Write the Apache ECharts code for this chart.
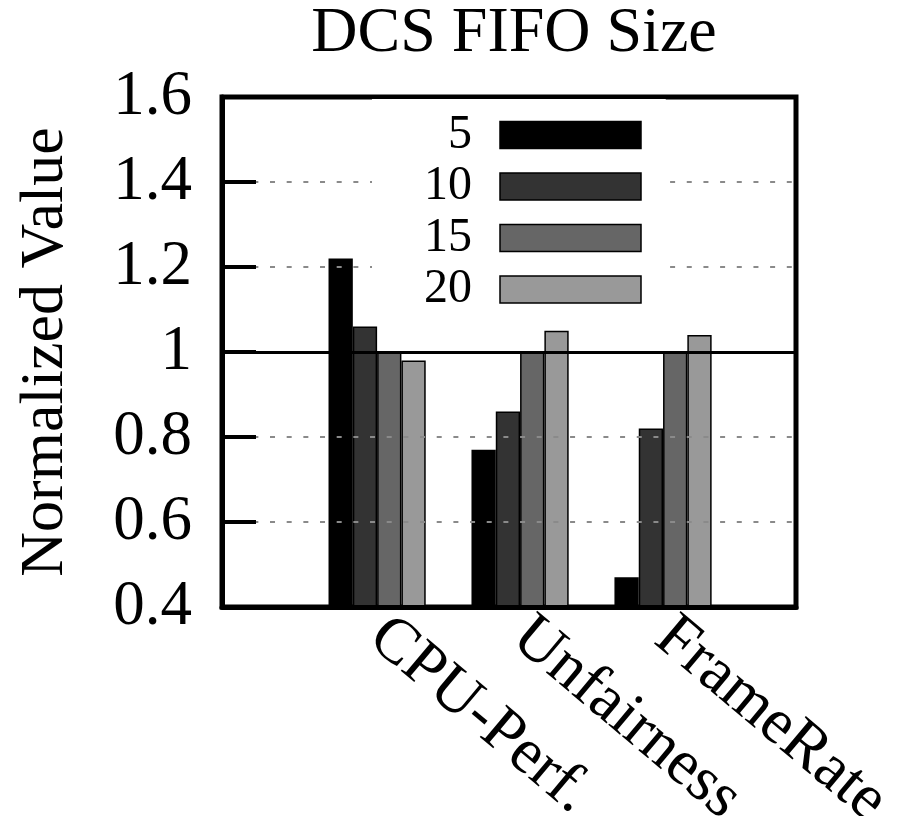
<!DOCTYPE html>
<html>
<head>
<meta charset="utf-8">
<title>DCS FIFO Size</title>
<script src="https://cdn.jsdelivr.net/npm/echarts@6/dist/echarts.min.js"></script>
<style>
  html, body { margin: 0; padding: 0; background: #fff; }
  #chart { width: 900px; height: 816px; }
</style>
</head>
<body>
<div id="chart"></div>
<script>
// Metrics on the x axis, FIFO sizes as the series
const categories = ['CPU-Perf.', 'Unfairness', 'FrameRate'];
const fifoSizes = ['5', '10', '15', '20'];
const values5 = [1.22, 0.77, 0.47];
const values10 = [1.06, 0.86, 0.82];
const values15 = [1.00, 1.00, 1.00];
const values20 = [0.98, 1.05, 1.04];
const yTicks = [0.4, 0.6, 0.8, 1.0, 1.2, 1.4, 1.6];

const seriesValues = [values5, values10, values15, values20];
const barColors = ['#000000', '#333333', '#666666', '#999999'];
const FONT = '"Liberation Serif", "Times New Roman", serif';

const chart = echarts.init(document.getElementById('chart'), null, { renderer: 'canvas' });

const series = fifoSizes.map((name, s) => ({
  name: name,
  type: 'bar',
  barWidth: 24.3,
  barGap: '0%',
  clip: true,
  data: seriesValues[s].map((v, i) => [i, v]),
  itemStyle: { color: barColors[s], borderColor: '#000', borderWidth: 1.5 },
  emphasis: { disabled: true },
  z: 2
}));

// Solid reference line at 1.0 drawn over the bars
series[series.length - 1].markLine = {
  silent: true,
  symbol: ['none', 'none'],
  label: { show: false },
  lineStyle: { color: '#000', width: 3, type: 'solid' },
  data: [{ yAxis: 1 }],
  z: 4
};

// split lines: dotted grey everywhere except at the frame edges and at 1.0
const splitColors = yTicks.map(t => (t === 0.4 || t === 1.6 || Math.abs(t - 1) < 1e-9) ? 'rgba(0,0,0,0)' : '#8a8a8a');

chart.setOption({
  animation: false,
  backgroundColor: '#fff',
  title: {
    text: 'DCS FIFO Size',
    left: 509,
    textAlign: 'center',
    top: -3,
    textStyle: { fontFamily: FONT, fontSize: 64, fontWeight: 'normal', color: '#000' }
  },
  legend: {
    data: fifoSizes,
    orient: 'vertical',
    align: 'right',
    left: 372,
    top: 99,
    z: 10,
    padding: [12, 24, 0, 52],
    itemWidth: 141,
    itemHeight: 27,
    itemGap: 3.5,
    icon: 'rect',
    backgroundColor: '#fff',
    selectedMode: false,
    itemStyle: { borderColor: '#000', borderWidth: 1.5 },
    textStyle: {
      fontFamily: FONT,
      fontSize: 48,
      color: '#000',
      padding: [0, 23, 0, 0]
    }
  },
  grid: {
    left: 222,
    right: 104,
    top: 97,
    bottom: 209,
    outerBoundsMode: 'none',
    containLabel: false,
    show: true,
    borderColor: '#000',
    borderWidth: 5,
    backgroundColor: 'transparent'
  },
  xAxis: {
    type: 'value',
    min: -1.085,
    max: 2.93,
    z: 5,
    axisLine: { show: true, onZero: false, lineStyle: { color: '#000', width: 5 } },
    axisTick: { show: false },
    splitLine: { show: false },
    axisLabel: {
      customValues: [0, 1, 2],
      formatter: v => categories[Math.round(v)] || '',
      rotate: -40,
      margin: 22,
      padding: [38, 0, 0, 0],
      fontFamily: FONT,
      fontSize: 64,
      color: '#000'
    }
  },
  yAxis: {
    type: 'value',
    min: 0.4,
    max: 1.6,
    interval: 0.2,
    z: 5,
    name: 'Normalized Value',
    nameLocation: 'middle',
    nameRotate: 90,
    nameGap: 145,
    nameTextStyle: { fontFamily: FONT, fontSize: 62, color: '#000' },
    axisLine: { show: true, onZero: false, lineStyle: { color: '#000', width: 5 } },
    axisTick: { show: true, inside: true, length: 34, lineStyle: { color: '#000', width: 4 } },
    axisLabel: {
      margin: 30,
      fontFamily: FONT,
      fontSize: 63,
      color: '#000',
      formatter: v => {
        const r = Math.round(v * 10) / 10;
        return r === 1 ? '1' : r.toFixed(1);
      }
    },
    splitLine: {
      show: true,
      lineStyle: { color: splitColors, width: 2, type: [5, 11.67], dashOffset: 2 }
    }
  },
  series: series
});
</script>
</body>
</html>
